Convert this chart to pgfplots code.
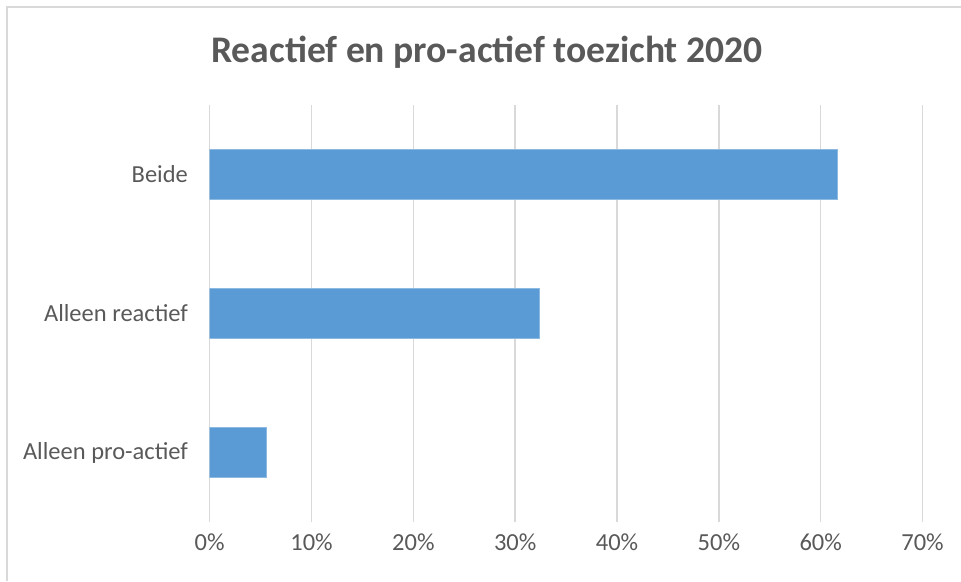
\documentclass[border=0pt]{standalone}
\usepackage{pgfplots}
\pgfplotsset{compat=1.18}
\usepackage{fontspec}
\setmainfont{Carlito}
\definecolor{barblue}{HTML}{5B9BD5}
\definecolor{gridgray}{HTML}{D9D9D9}
\definecolor{txtgray}{HTML}{595959}
\begin{document}
\begin{tikzpicture}[x=1pt,y=1pt]
\path[use as bounding box] (0,0) rectangle (961,581);
\draw[gridgray, line width=2pt] (7,0) -- (7,574) -- (961,574);
\node[anchor=base, text=txtgray, font=\fontsize{37.6}{44}\selectfont\bfseries] at (487,518) {Reactief en pro-actief toezicht 2020};
\begin{axis}[
  at={(209.7pt,59pt)}, anchor=south west,
  scale only axis, width=712.8pt, height=417pt,
  xmin=0, xmax=70, ymin=-0.5, ymax=2.5,
  xbar, bar width=50pt, bar shift=0pt,
  axis line style={draw=none},
  xmajorgrids, major grid style={gridgray, line width=1.5pt},
  xtick={0,10,...,70},
  ytick={0,1,2},
  yticklabels={Alleen pro-actief, Alleen reactief, Beide},
  xticklabel={\pgfmathprintnumber{\tick}\%},
  /pgf/number format/assume math mode=true,
  tick style={draw=none},
  ticklabel style={text=txtgray, font=\fontsize{24.5}{28}\selectfont},
  xticklabel style={yshift=-8pt},
  yticklabel style={xshift=-14pt},
]
\addplot[fill=barblue, draw=barblue!70!white, line width=0.5pt] coordinates {(5.6,0) (32.4,1) (61.6,2)};
\end{axis}
\end{tikzpicture}
\end{document}
